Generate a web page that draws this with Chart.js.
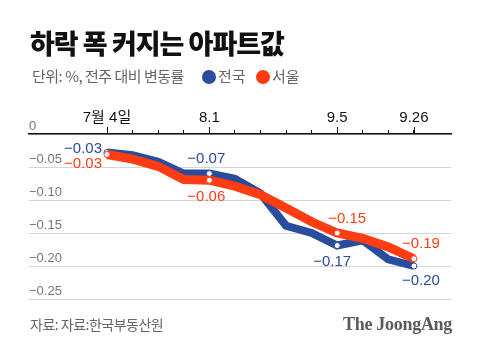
<!DOCTYPE html>
<html>
<head>
<meta charset="utf-8">
<script src="https://cdn.jsdelivr.net/npm/chart.js@4.4.0/dist/chart.umd.min.js"></script>
<style>
  body { margin: 0; background: #fff; }
  #wrap { position: relative; width: 480px; height: 354px; overflow: hidden; font-family: "Noto Sans CJK KR", sans-serif; }
  #c { position: absolute; left: 0; top: 0; }
  .title { position: absolute; left: 30px; top: 26px; font-size: 27px; font-weight: 900; letter-spacing: -1px; color: #111; line-height: 34px; white-space: nowrap; }
  .sub { position: absolute; left: 32px; top: 65px; font-size: 15px; color: #666; line-height: 22px; letter-spacing: -0.5px; white-space: nowrap; }
  .leg { position: absolute; top: 65px; font-size: 15px; color: #666; line-height: 22px; white-space: nowrap; }
  .dot { display: inline-block; width: 14px; height: 14px; border-radius: 50%; vertical-align: -2px; margin-right: 2px; }
  .src { position: absolute; left: 30px; top: 314px; font-size: 14px; color: #666; line-height: 20px; letter-spacing: -0.5px; }
  .logo { position: absolute; right: 28px; top: 313px; font-family: "Liberation Serif", serif; font-weight: bold; font-size: 18px; color: #5a5a5a; line-height: 22px; letter-spacing: -0.3px; }
</style>
</head>
<body>
<div id="wrap">
  <canvas id="c" width="480" height="354"></canvas>
  <div class="title">하락 폭 커지는 아파트값</div>
  <div class="sub">단위: %, 전주 대비 변동률</div>
  <div class="leg" style="left:202px"><span class="dot" style="background:#2a4c9c"></span>전국</div>
  <div class="leg" style="left:256px"><span class="dot" style="background:#ff3c12"></span>서울</div>
  <div class="src">자료: 자료:한국부동산원</div>
  <div class="logo">The JoongAng</div>
</div>
<script>
// 주간 (7.4 ~ 9.26)
const weeks = ["7월 4일", "7.11", "7.18", "7.25", "8.1", "8.8", "8.15", "8.22", "8.29", "9.5", "9.12", "9.19", "9.26"];
const shownWeeks = [0, 4, 9, 12];

const korea = [-0.028, -0.032, -0.042, -0.06, -0.06, -0.068, -0.09, -0.139, -0.15, -0.169, -0.161, -0.19, -0.2];
const seoul = [-0.031, -0.038, -0.049, -0.069, -0.07, -0.079, -0.092, -0.112, -0.133, -0.15, -0.158, -0.171, -0.189];

// 그림에 적힌 값 라벨
const koreaLabels = ["−0.03", "−0.07", "−0.17", "−0.20"];
const seoulLabels = ["−0.03", "−0.06", "−0.15", "−0.19"];

const yTicks = [0, -0.05, -0.1, -0.15, -0.2, -0.25];

const BLUE = "#2a4c9c";
const RED = "#ff3c12";

const numFont = '"Liberation Sans", Arial, "Noto Sans CJK KR", sans-serif';

function pointSize(ctx) {
  return shownWeeks.includes(ctx.dataIndex) ? 3 : 0;
}

const valueLabels = {
  id: "valueLabels",
  afterDatasetsDraw(chart) {
    const ctx = chart.ctx;
    const xs = chart.scales.x, ys = chart.scales.y;
    const sets = [
      { data: korea, text: koreaLabels, color: BLUE, off: [[-5, -4, "right"], [-3, -15, "center"], [-5, 16, "center"], [7, 15, "center"]] },
      { data: seoul, text: seoulLabels, color: RED, off: [[-5, 9, "right"], [-3, 17, "center"], [10, -14, "center"], [7, -15, "center"]] }
    ];
    ctx.save();
    ctx.font = "15px " + numFont;
    ctx.textBaseline = "middle";
    sets.forEach(s => {
      ctx.fillStyle = s.color;
      shownWeeks.forEach((idx, k) => {
        const px = xs.getPixelForValue(idx);
        const py = ys.getPixelForValue(s.data[idx]);
        const o = s.off[k];
        ctx.textAlign = o[2];
        ctx.fillText(s.text[k], px + o[0], py + o[1]);
      });
    });
    // 주요 눈금 (길게)
    ctx.strokeStyle = "#111";
    ctx.lineWidth = 1;
    shownWeeks.forEach(idx => {
      const px = Math.round(xs.getPixelForValue(idx)) + 0.5;
      ctx.beginPath();
      ctx.moveTo(px, chart.chartArea.top - 7);
      ctx.lineTo(px, chart.chartArea.top);
      ctx.stroke();
    });
    ctx.restore();
  }
};

new Chart(document.getElementById("c"), {
  type: "line",
  data: {
    datasets: [
      {
        label: "전국",
        data: korea.map((v, i) => ({ x: i, y: v })),
        borderColor: BLUE,
        borderWidth: 8,
        pointRadius: pointSize,
        pointBackgroundColor: "#fff",
        pointBorderColor: BLUE,
        pointBorderWidth: 1,
        tension: 0,
        borderJoinStyle: "miter",
        order: 2
      },
      {
        label: "서울",
        data: seoul.map((v, i) => ({ x: i, y: v })),
        borderColor: RED,
        borderWidth: 9,
        pointRadius: pointSize,
        pointBackgroundColor: "#fff",
        pointBorderColor: RED,
        pointBorderWidth: 1,
        tension: 0,
        borderJoinStyle: "miter",
        order: 1
      }
    ]
  },
  options: {
    responsive: false,
    animation: false,
    events: [],
    layout: { padding: { left: 29, right: 29, top: 100, bottom: 55 } },
    plugins: { legend: { display: false }, tooltip: { enabled: false } },
    scales: {
      x: {
        type: "linear",
        position: "top",
        min: -3.05,
        max: 13.45,
        afterBuildTicks: s => { s.ticks = weeks.map((w, i) => ({ value: i })); },
        afterFit: s => { s.height = 34; },
        grid: { drawOnChartArea: false, drawTicks: true, tickLength: 4, tickColor: "#111", tickWidth: 1 },
        border: { display: true, color: "#111", width: 1.5 },
        ticks: {
          autoSkip: false,
          maxRotation: 0,
          padding: 3,
          color: "#111",
          font: { family: numFont, size: 15 },
          callback: v => shownWeeks.includes(v) ? weeks[v] : ""
        }
      },
      y: {
        min: -0.25,
        max: 0,
        afterBuildTicks: s => { s.ticks = yTicks.map(v => ({ value: v })); },
        afterFit: s => { s.width = 0; },
        grid: { color: "#d6d6d6", lineWidth: 1, drawTicks: false },
        border: { display: false },
        ticks: {
          mirror: true,
          padding: 0,
          labelOffset: -8,
          color: "#777",
          font: { family: numFont, size: 13 },
          callback: v => v === 0 ? "0" : "−" + Math.abs(v).toFixed(2)
        }
      }
    }
  },
  plugins: [valueLabels]
});
</script>
</body>
</html>
